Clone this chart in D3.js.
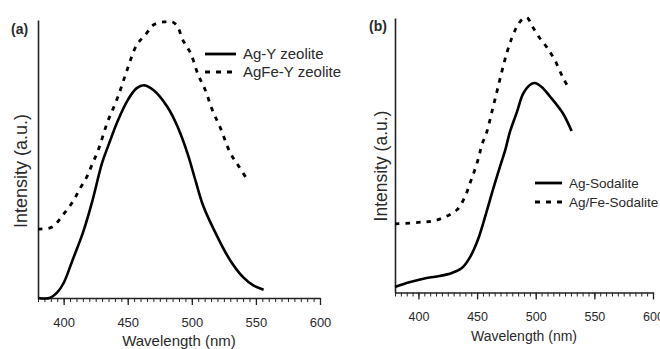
<!DOCTYPE html>
<html>
<head>
<meta charset="utf-8">
<script src="https://cdn.jsdelivr.net/npm/d3@7"></script>
<style>
  body { margin: 0; background: #fff; }
  text { font-family: "Liberation Sans", Arial, sans-serif; fill: #2a2a2a; }
</style>
</head>
<body>
<svg id="chart" width="660" height="349"></svg>
<script>
// emission spectra, [wavelength nm, intensity a.u.]
var agY = [[380,0],[389,0],[395,2],[400,5.4],[407,13.7],[415,23.4],[422,34.2],[430,48.6],[435,55],
  [442,63.5],[450,71.2],[457,75.5],[463,76.5],[470,74.8],[481,68.7],[489,61.5],[497,51.5],
  [503,42],[509,33],[520,22],[530,13.5],[540,7.5],[548,4.5],[556,3]];
var agFeY = [[380,24.8],[391,25.5],[399.5,29.9],[407,34.5],[413,39.6],[418,43.5],[422,47.8],
  [427,53.2],[434,63],[442,71.9],[449.5,82],[457,91],[464,94.8],[470,98.2],[478,99.3],
  [485,99.3],[489,97.5],[493,92.8],[499,88.1],[505,80.2],[510.5,74.8],[516,67.6],[522,61.5],
  [530,52.2],[536,47.8],[543,42.8]];
var agSod = [[380,2],[393,3.8],[407,5.3],[418,6],[428.5,7.1],[437,8.9],[444,12.9],[450.6,19.1],
  [458,29.3],[463.4,37.3],[469.4,45.7],[474,51.9],[478,58.5],[484,65.8],[489,72.2],[495,75.6],
  [499,76.3],[505,74.9],[512,71.5],[523,65.4],[530.6,58.8]];
var agFeSod = [[380,25],[393,25.3],[404,25.7],[412,26],[422.6,27.5],[432.8,30.1],[439.6,34.8],
  [444,39.9],[448,44.6],[451.5,49.4],[454,53.7],[458.3,58.5],[462.6,65.8],[466.8,73],[471,80.3],
  [475.3,87.2],[479.6,92.7],[483.8,96.7],[488,99.3],[492.3,100.2],[497.4,96.7],[503.4,92.7],
  [509.4,89.4],[516.2,84.7],[523,78.5],[529,73.8]];

var majorTicks = [400, 450, 500, 550, 600];
var minorTicks = d3.range(380, 601, 5);

var svg = d3.select("#chart");

function panel(opt) {
  var x = d3.scaleLinear().domain([380, 600]).range([opt.x0, opt.x1]);
  var y = d3.scaleLinear().domain([0, 100]).range([opt.y1, opt.y0]);
  var g = svg.append("g");

  // minor ticks
  g.append("g").attr("transform", "translate(0," + opt.y1 + ")")
    .call(d3.axisBottom(x).tickValues(minorTicks).tickSize(4).tickSizeOuter(0).tickFormat(""))
    .call(a => a.select(".domain").attr("stroke", "#222").attr("stroke-width", 1.6));
  var xa = g.append("g").attr("transform", "translate(0," + opt.y1 + ")")
    .call(d3.axisBottom(x).tickValues(majorTicks).tickSize(7).tickSizeOuter(0).tickPadding(opt.pad).tickFormat(d3.format("d")));
  xa.select(".domain").remove();
  xa.selectAll("line").attr("stroke", "#222").attr("stroke-width", 1.3);
  xa.selectAll("text").attr("font-size", opt.tickFont).attr("fill", "#333").style("font-family", "Liberation Sans, Arial, sans-serif");
  g.selectAll(".tick line").attr("stroke", "#222");

  g.append("g").attr("transform", "translate(" + opt.x0 + ",0)")
    .call(d3.axisLeft(y).tickValues([]).tickSizeOuter(0))
    .select(".domain").attr("stroke", "#222").attr("stroke-width", 1.6);

  var line = d3.line().x(d => x(d[0])).y(d => y(d[1])).curve(d3.curveCatmullRom);
  g.append("path").datum(opt.solid).attr("d", line)
    .attr("fill", "none").attr("stroke", "#000").attr("stroke-width", 2.6);
  g.append("path").datum(opt.dashed).attr("d", line)
    .attr("fill", "none").attr("stroke", "#000").attr("stroke-width", 2.8).attr("stroke-dasharray", "4.5,6");

  g.append("text").attr("x", (opt.x0 + opt.x1) / 2).attr("y", opt.titleY)
    .attr("text-anchor", "middle").attr("font-size", opt.titleFont).text("Wavelength (nm)");
  g.append("text").attr("transform", "translate(" + opt.ylx + "," + opt.yly + ") rotate(-90)")
    .attr("text-anchor", "middle").attr("dy", "0.35em").attr("font-size", opt.ylFont).text("Intensity (a.u.)");
  g.append("text").attr("x", opt.tagX).attr("y", opt.tagY).attr("font-size", 14)
    .attr("font-weight", "bold").attr("fill", "#111").text(opt.tag);

  // legend
  var lg = g.append("g");
  opt.legend.forEach(function (d, i) {
    var ly = opt.legY[i];
    lg.append("line").attr("x1", opt.legX).attr("x2", opt.legX + opt.legW).attr("y1", ly).attr("y2", ly)
      .attr("stroke", "#000").attr("stroke-width", 2.8).attr("stroke-dasharray", i ? "5,6" : null);
    lg.append("text").attr("x", opt.legX + opt.legW + 7).attr("y", ly).attr("dy", "0.36em")
      .attr("font-size", opt.legFont).text(d);
  });
}

panel({ x0: 38, x1: 320, y0: 20, y1: 298, pad: 13, tickFont: 13, titleY: 346, titleFont: 15,
  ylx: 21, yly: 171, ylFont: 18, tag: "(a)", tagX: 11, tagY: 34,
  solid: agY, dashed: agFeY, legend: ["Ag-Y zeolite", "AgFe-Y zeolite"],
  legX: 205, legW: 31, legY: [54, 72], legFont: 15 });

panel({ x0: 395, x1: 653, y0: 18, y1: 292.5, pad: 12.5, tickFont: 12.5, titleY: 341, titleFont: 14,
  ylx: 381, yly: 166, ylFont: 17.5, tag: "(b)", tagX: 369, tagY: 31,
  solid: agSod, dashed: agFeSod, legend: ["Ag-Sodalite", "Ag/Fe-Sodalite"],
  legX: 535, legW: 27, legY: [183, 202], legFont: 13.5 });
</script>
</body>
</html>
